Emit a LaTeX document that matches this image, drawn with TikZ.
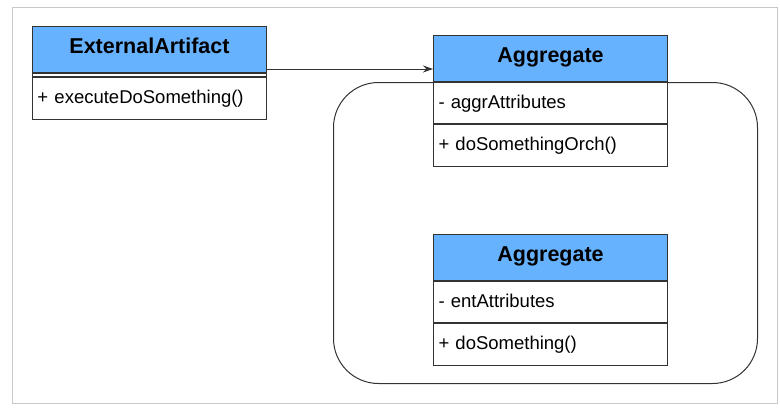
\documentclass[tikz,border=0pt]{standalone}
\usepackage{fontspec}
\setmainfont{Liberation Sans}
\usetikzlibrary{positioning,arrows.meta}
\definecolor{headblue}{HTML}{66B2FF}
\definecolor{edgegray}{HTML}{333333}
\definecolor{framegray}{HTML}{C8C8C8}
\tikzset{
  classhead/.style={draw=edgegray, line width=1pt, fill=headblue, minimum width=234pt, minimum height=46pt, inner sep=0pt, text height=15pt, text depth=8pt, font=\fontsize{21.5}{24}\selectfont\bfseries},
  member/.style={draw=edgegray, line width=1pt, fill=white, minimum height=41pt, text width=224pt, inner sep=5pt, align=left, text height=13pt, text depth=3pt, font=\fontsize{18.5}{22}\selectfont},
  gap/.style={draw=edgegray, line width=1pt, fill=white, minimum width=234pt, minimum height=3pt, inner sep=0pt},
  bound/.style={draw=edgegray, line width=1pt, rounded corners=45pt, minimum width=424pt, minimum height=301pt},
}

\begin{document}
\begin{tikzpicture}[x=1pt,y=-1pt]
    \useasboundingbox (0,0) rectangle (780,410);
    \draw[framegray, line width=1pt] (12,7) rectangle (777,403);
    \node[bound, anchor=north west] (boundary) at (333,82) {};

    \node[classhead, anchor=north west] (extH) at (32,26) {ExternalArtifact};
    \node[gap, below=0pt of extH] (extG) {};
    \node[member, minimum height=42pt, below=0pt of extG] (extM) {+ executeDoSomething()};

    \node[classhead, anchor=north west] (orchH) at (433,35) {Aggregate};
    \node[member, below=0pt of orchH] (orchA) {- aggrAttributes};
    \node[member, minimum height=42pt, below=0pt of orchA] (orchM) {+ doSomethingOrch()};

    \node[classhead, anchor=north west] (entH) at (433,234) {Aggregate};
    \node[member, below=0pt of entH] (entA) {- entAttributes};
    \node[member, minimum height=42pt, below=0pt of entA] (entM) {+ doSomething()};

    \draw[-{Stealth[length=10pt,width=7pt]}, edgegray, line width=1pt] ([yshift=4pt]extH.south east) -- ([yshift=4pt]extH.south east -| orchH.west);
\end{tikzpicture}
\end{document}
